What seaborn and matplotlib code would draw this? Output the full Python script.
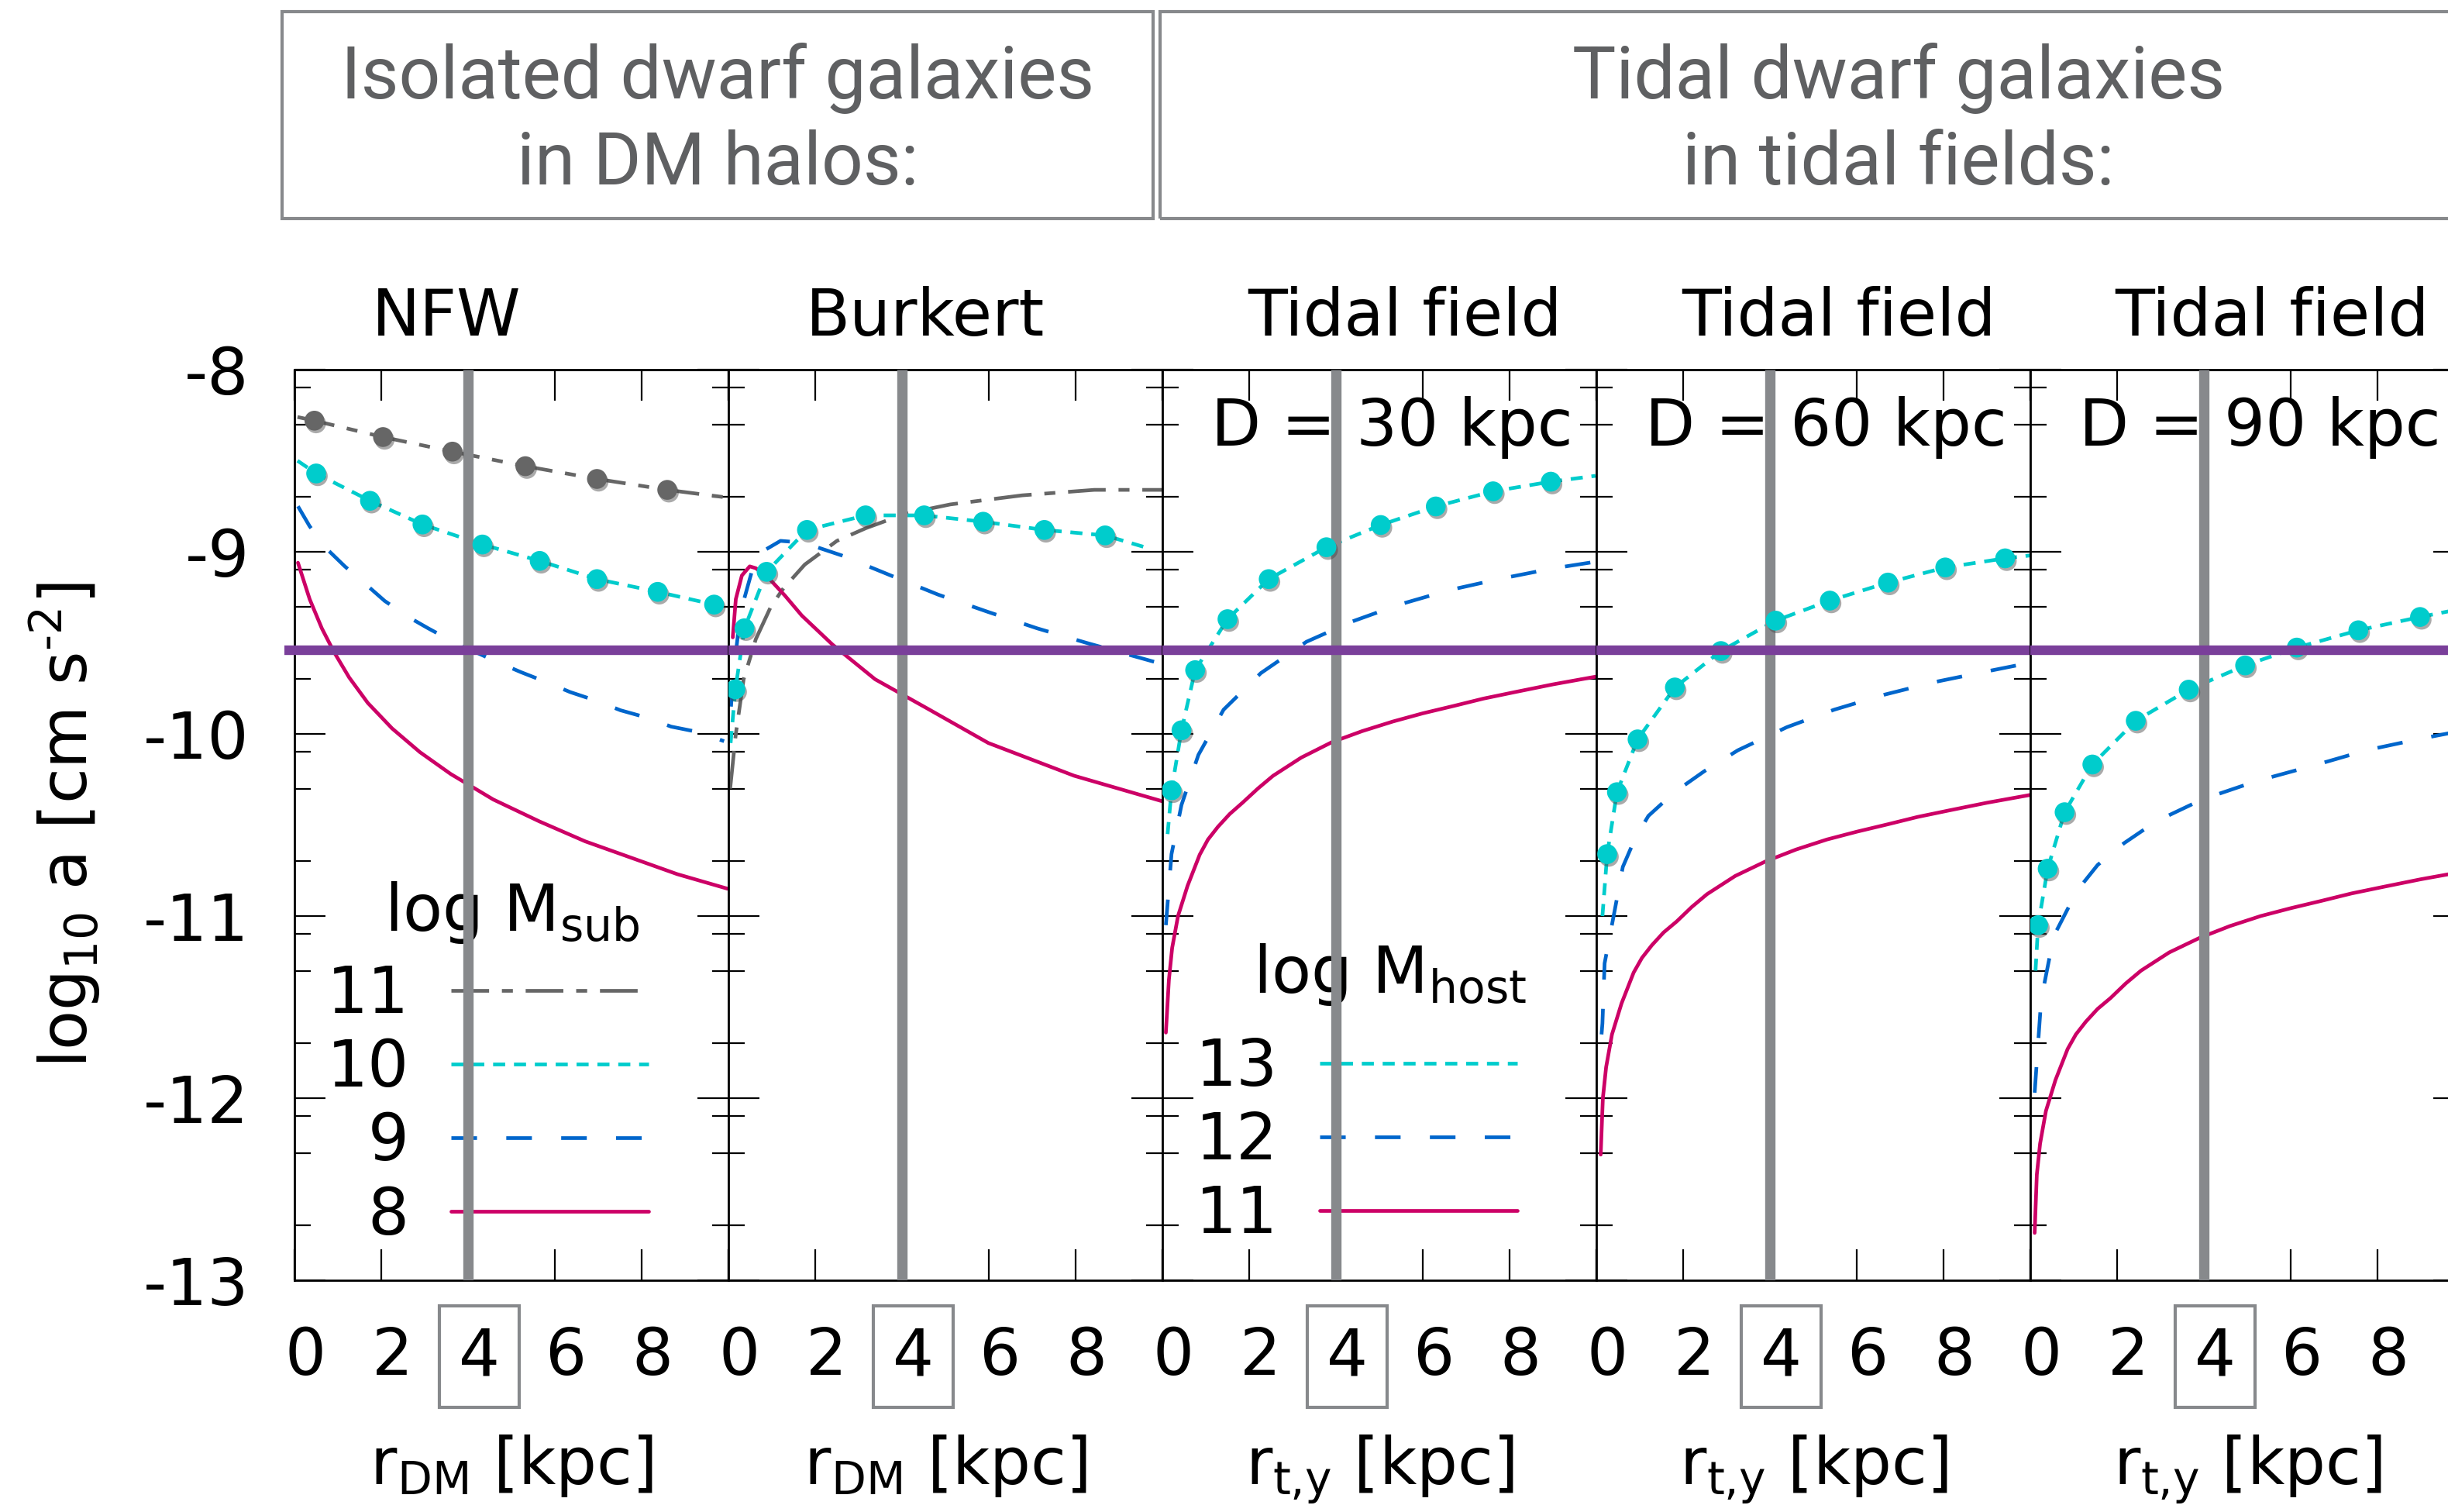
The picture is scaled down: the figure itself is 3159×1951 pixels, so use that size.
import matplotlib
matplotlib.use("Agg")
import matplotlib.pyplot as plt
import matplotlib.patheffects as pe
from matplotlib.lines import Line2D
from matplotlib.patches import Rectangle
import numpy as np
import seaborn as sns

# ---------------- data ----------------
panel_titles = ["NFW", "Burkert", "Tidal field", "Tidal field", "Tidal field"]
title_x = [3.5, 4.54, 5.59, 5.59, 5.57]
distance_labels = [None, None, "D = 30 kpc", "D = 60 kpc", "D = 90 kpc"]
x_label_dm = r"r$_{\mathrm{DM}}$ [kpc]"
x_label_t = r"r$_{\mathrm{t{,}y}}$ [kpc]"
y_label = r"log$_{10}$ a [cm s$^{\text{-}2}$]"
x_tick_values = [0, 2, 4, 6, 8]
y_tick_values = [-13, -12, -11, -10, -9, -8]
ref_radius = 4
ref_accel = -9.54

# NFW panel (log M_sub = 11, 10, 9, 8)
nfw11_x = [0.07, 0.46, 2.04, 3.64, 5.32, 6.97, 8.59, 9.9]
nfw11_y = [-8.26, -8.28, -8.37, -8.45, -8.53, -8.60, -8.66, -8.70]
nfw11_mx = [0.46, 2.04, 3.64, 5.32, 6.97, 8.59]
nfw11_my = [-8.28, -8.37, -8.45, -8.53, -8.60, -8.66]
nfw10_x = [0.07, 0.50, 1.74, 2.95, 4.33, 5.65, 6.97, 8.37, 9.67, 9.9]
nfw10_y = [-8.50, -8.57, -8.72, -8.85, -8.96, -9.05, -9.15, -9.22, -9.29, -9.30]
nfw10_mx = [0.50, 1.74, 2.95, 4.33, 5.65, 6.97, 8.37, 9.67]
nfw10_my = [-8.57, -8.72, -8.85, -8.96, -9.05, -9.15, -9.22, -9.29]
nfw9_x = [0.08, 0.35, 0.77, 1.16, 1.65, 2.08, 2.64, 3.08, 3.70, 4.72, 5.21, 5.85, 6.35, 6.98, 7.51, 8.11, 8.68, 9.31, 9.9]
nfw9_y = [-8.75, -8.86, -8.99, -9.08, -9.18, -9.27, -9.36, -9.42, -9.50, -9.61, -9.66, -9.72, -9.77, -9.82, -9.87, -9.91, -9.96, -9.99, -10.04]
nfw8_x = [0.08, 0.35, 0.63, 0.91, 1.26, 1.69, 2.25, 2.89, 3.60, 4.58, 5.64, 6.70, 7.76, 8.82, 9.98]
nfw8_y = [-9.06, -9.26, -9.42, -9.55, -9.69, -9.83, -9.97, -10.10, -10.22, -10.36, -10.48, -10.59, -10.68, -10.77, -10.85]

# Burkert panel
bur11_x = [0.04, 0.17, 0.35, 0.63, 0.98, 1.27, 1.76, 2.50, 3.17, 4.09, 5.11, 6.77, 8.43, 10.0]
bur11_y = [-10.30, -10.00, -9.70, -9.48, -9.30, -9.20, -9.07, -8.94, -8.87, -8.79, -8.74, -8.69, -8.66, -8.66]
bur10_x = [0.05, 0.16, 0.37, 0.88, 1.81, 3.16, 4.51, 5.87, 7.28, 8.68, 9.67]
bur10_y = [-10.05, -9.755, -9.42, -9.11, -8.88, -8.80, -8.80, -8.835, -8.88, -8.91, -8.98]
bur10_mx = [0.16, 0.37, 0.88, 1.81, 3.16, 4.51, 5.87, 7.28, 8.68]
bur10_my = [-9.755, -9.42, -9.11, -8.88, -8.80, -8.80, -8.835, -8.88, -8.91]
bur9_x = [0.06, 0.10, 0.28, 0.56, 0.77, 1.20, 1.73, 2.61, 3.74, 4.83, 5.98, 7.11, 8.25, 9.9]
bur9_y = [-9.85, -9.70, -9.33, -9.09, -9.00, -8.94, -8.95, -9.02, -9.13, -9.235, -9.33, -9.42, -9.50, -9.61]
bur8_x = [0.10, 0.17, 0.31, 0.49, 0.63, 0.91, 1.30, 1.69, 2.40, 3.38, 4.58, 5.99, 7.97, 10.0]
bur8_y = [-9.47, -9.26, -9.13, -9.08, -9.09, -9.14, -9.24, -9.35, -9.51, -9.70, -9.86, -10.05, -10.23, -10.37]

# Tidal field, D = 30 kpc (log M_host = 13, 12, 11)
d30_13_x = [0.12, 0.21, 0.44, 0.755, 1.50, 2.45, 3.78, 5.03, 6.30, 7.62, 8.95, 9.98]
d30_13_y = [-10.55, -10.31, -9.98, -9.65, -9.37, -9.15, -8.975, -8.853, -8.751, -8.668, -8.615, -8.583]
d30_13_mx = [0.21, 0.44, 0.755, 1.50, 2.45, 3.78, 5.03, 6.30, 7.62, 8.95]
d30_13_my = [-10.31, -9.98, -9.65, -9.37, -9.15, -8.975, -8.853, -8.751, -8.668, -8.615]
d30_12_x = [0.08, 0.21, 0.44, 0.83, 1.41, 2.27, 3.32, 4.37, 5.47, 6.62, 7.79, 8.98, 10.0]
d30_12_y = [-11.05, -10.66, -10.39, -10.115, -9.867, -9.666, -9.494, -9.383, -9.289, -9.21, -9.148, -9.092, -9.054]
d30_11_x = [0.08, 0.15, 0.225, 0.36, 0.58, 0.86, 1.05, 1.28, 1.55, 1.85, 2.2, 2.55, 3.2, 3.90, 4.6, 5.31, 6.0, 6.72, 7.4, 8.13, 9.0, 10.0]
d30_11_y = [-11.64, -11.35, -11.175, -11.0, -10.834, -10.663, -10.58, -10.51, -10.44, -10.377, -10.30, -10.23, -10.13, -10.046, -9.985, -9.932, -9.887, -9.846, -9.806, -9.77, -9.728, -9.685]

# Tidal field, D = 60 kpc
d60_13_x = [0.14, 0.25, 0.475, 0.95, 1.81, 2.87, 4.13, 5.38, 6.72, 8.04, 9.42, 10.0]
d60_13_y = [-11.0, -10.66, -10.32, -10.03, -9.745, -9.545, -9.378, -9.268, -9.169, -9.086, -9.036, -9.02]
d60_13_mx = [0.25, 0.475, 0.95, 1.81, 2.87, 4.13, 5.38, 6.72, 8.04, 9.42]
d60_13_my = [-10.66, -10.32, -10.03, -9.745, -9.545, -9.378, -9.268, -9.169, -9.086, -9.036]
d60_12_x = [0.12, 0.14, 0.19, 0.43, 0.61, 0.9, 1.2, 1.8, 2.48, 3.26, 4.39, 5.48, 6.63, 7.80, 8.99, 10.0]
d60_12_y = [-11.65, -11.59, -11.26, -10.96, -10.73, -10.57, -10.45, -10.32, -10.206, -10.09, -9.963, -9.867, -9.785, -9.715, -9.657, -9.609]
d60_11_x = [0.10, 0.15, 0.225, 0.36, 0.58, 0.86, 1.05, 1.28, 1.55, 1.85, 2.2, 2.55, 3.2, 3.90, 4.6, 5.31, 6.0, 6.72, 7.4, 8.13, 9.0, 10.0]
d60_11_y = [-12.31, -12.0, -11.83, -11.65, -11.48, -11.31, -11.23, -11.16, -11.09, -11.03, -10.95, -10.88, -10.78, -10.70, -10.635, -10.58, -10.537, -10.496, -10.456, -10.42, -10.378, -10.335]

# Tidal field, D = 90 kpc
d90_13_x = [0.12, 0.18, 0.40, 0.79, 1.43, 2.43, 3.65, 4.95, 6.14, 7.56, 8.98, 10.0]
d90_13_y = [-11.3, -11.05, -10.74, -10.43, -10.168, -9.928, -9.757, -9.624, -9.526, -9.431, -9.358, -9.31]
d90_13_mx = [0.18, 0.40, 0.79, 1.43, 2.43, 3.65, 4.95, 6.14, 7.56, 8.98]
d90_13_my = [-11.05, -10.74, -10.43, -10.168, -9.928, -9.757, -9.624, -9.526, -9.431, -9.358]
d90_12_x = [0.10, 0.25, 0.54, 1.08, 1.55, 2.16, 2.9, 3.96, 5.2, 6.58, 7.74, 8.92, 10.0]
d90_12_y = [-11.97, -11.46, -11.11, -10.86, -10.72, -10.60, -10.48, -10.36, -10.26, -10.17, -10.09, -10.03, -9.98]
d90_11_x = [0.10, 0.15, 0.225, 0.36, 0.58, 0.86, 1.05, 1.28, 1.55, 1.85, 2.2, 2.55, 3.2, 3.90, 4.6, 5.31, 6.0, 6.72, 7.4, 8.13, 9.0, 10.0]
d90_11_y = [-12.74, -12.42, -12.25, -12.07, -11.90, -11.73, -11.65, -11.58, -11.51, -11.45, -11.37, -11.30, -11.20, -11.12, -11.055, -11.0, -10.957, -10.916, -10.876, -10.84, -10.798, -10.755]

legend_sub_labels = ["11", "10", "\u20079", "\u20078"]
legend_host_labels = ["13", "12", "11"]

# ---------------- styling ----------------
sns.set_theme(style="ticks")
plt.rcParams["font.family"] = ["DejaVu Sans"]
plt.rcParams["axes.unicode_minus"] = False
plt.rcParams["mathtext.default"] = "regular"
plt.rcParams["text.color"] = "black"
plt.rcParams["axes.labelcolor"] = "black"
plt.rcParams["xtick.color"] = "black"
plt.rcParams["ytick.color"] = "black"

C_GRAY = "#666666"
C_CYAN = "#00CCCC"
C_BLUE = "#0066CC"
C_MAG = "#CC0066"
C_PURPLE = "#7A3F9A"
C_VLINE = "#87898C"
LW = 3.4
FS = 60
D_GRAY = (10.3, 3.5, 3, 3.5)
D_CYAN = (3.3, 2.4)
D_BLUE = (7, 8)
MS = 340

W, H = 3159, 1951
fig = plt.figure(figsize=(W / 100, H / 100), dpi=100)

ax_left_px = [380, 940, 1500, 2060, 2620]
ax_w_px = 560
ax_top_px, ax_bot_px = 477, 1652
axes = []
for lp in ax_left_px:
    ax = fig.add_axes([lp / W, 1 - ax_bot_px / H, ax_w_px / W, (ax_bot_px - ax_top_px) / H])
    axes.append(ax)

shadow = [pe.SimplePatchShadow(offset=(1.5, -2.5), shadow_rgbFace="#444444", alpha=0.45), pe.Normal()]


def curve(ax, x, y, color, dashes):
    sns.lineplot(x=x, y=y, ax=ax, color=color, linewidth=LW, sort=False, estimator=None, zorder=2)
    ln = ax.lines[-1]
    if dashes is not None:
        ln.set_dashes(dashes)
    ln.set_dash_capstyle("butt")
    ln.set_solid_joinstyle("round")


def dots(ax, x, y, color):
    sns.scatterplot(x=x, y=y, ax=ax, color=color, s=MS, linewidth=0, zorder=4)
    ax.collections[-1].set_path_effects(shadow)


# NFW
curve(axes[0], nfw11_x, nfw11_y, C_GRAY, D_GRAY)
curve(axes[0], nfw10_x, nfw10_y, C_CYAN, D_CYAN)
curve(axes[0], nfw9_x, nfw9_y, C_BLUE, D_BLUE)
curve(axes[0], nfw8_x, nfw8_y, C_MAG, None)
dots(axes[0], nfw11_mx, nfw11_my, C_GRAY)
dots(axes[0], nfw10_mx, nfw10_my, C_CYAN)
# Burkert
curve(axes[1], bur11_x, bur11_y, C_GRAY, D_GRAY)
curve(axes[1], bur10_x, bur10_y, C_CYAN, D_CYAN)
curve(axes[1], bur9_x, bur9_y, C_BLUE, D_BLUE)
curve(axes[1], bur8_x, bur8_y, C_MAG, None)
dots(axes[1], bur10_mx, bur10_my, C_CYAN)
# Tidal
for ax, (x13, y13, mx, my, x12, y12, x11, y11) in zip(
    axes[2:],
    [
        (d30_13_x, d30_13_y, d30_13_mx, d30_13_my, d30_12_x, d30_12_y, d30_11_x, d30_11_y),
        (d60_13_x, d60_13_y, d60_13_mx, d60_13_my, d60_12_x, d60_12_y, d60_11_x, d60_11_y),
        (d90_13_x, d90_13_y, d90_13_mx, d90_13_my, d90_12_x, d90_12_y, d90_11_x, d90_11_y),
    ],
):
    curve(ax, x13, y13, C_CYAN, D_CYAN)
    curve(ax, x12, y12, C_BLUE, D_BLUE)
    curve(ax, x11, y11, C_MAG, None)
    dots(ax, mx, my, C_CYAN)

minor_y = []
for d in range(-13, -8):
    for m in (2, 5, 8):
        minor_y.append(d + np.log10(m))

for i, ax in enumerate(axes):
    ax.set_xlim(0, 10)
    ax.set_ylim(-13, -8)
    ax.axvline(ref_radius, color=C_VLINE, lw=9.6, zorder=3, solid_capstyle="butt")
    ax.axhline(ref_accel, xmin=(-0.023 if i == 0 else 0), xmax=1, color=C_PURPLE, lw=8.9,
               zorder=6, clip_on=False, solid_capstyle="butt")
    ax.set_xticks([0, 2, 4, 6, 8, 10])
    ax.set_xticklabels([])
    ax.set_xticks([v + 0.25 for v in x_tick_values], minor=True)
    ax.set_xticklabels([str(v) for v in x_tick_values], minor=True)
    ax.set_yticks(y_tick_values)
    ax.set_yticks(minor_y, minor=True)
    ax.tick_params(which="both", direction="in", top=True, right=True, bottom=True, left=True,
                   color="black", width=1.6, labelsize=FS, pad=42, labelcolor="black")
    ax.tick_params(which="major", length=29)
    ax.tick_params(axis="y", which="minor", length=15)
    ax.tick_params(axis="x", which="minor", length=0)
    if i == 0:
        ax.set_yticklabels([str(v) for v in y_tick_values])
    else:
        ax.set_yticklabels([])
    for s in ax.spines.values():
        s.set_linewidth(2.0)
        s.set_color("black")
        s.set_visible(True)
    box_lab = ax.get_xticklabels(minor=True)[2]
    box_lab.set_bbox(dict(boxstyle="square,pad=0.3", fc="none", ec=C_VLINE, lw=3))
    ax.set_xlabel(x_label_dm if i < 2 else x_label_t, fontsize=FS, color="black")
    ax.xaxis.set_label_coords(0.5, -0.168)
    ax.set_ylabel("")
    ax.text(title_x[i], -7.813, panel_titles[i], ha="center", va="baseline", fontsize=FS,
            color="black", clip_on=False)
    if distance_labels[i]:
        ax.text(1.12, -8.417, distance_labels[i], ha="left", va="baseline", fontsize=FS,
                color="black", zorder=2)

axes[0].set_ylabel(y_label, fontsize=FS, color="black")
axes[0].yaxis.set_label_coords(-0.443, 0.5)

# legends
h_sub = [Line2D([], [], color=C_GRAY, lw=LW, dashes=D_GRAY),
         Line2D([], [], color=C_CYAN, lw=LW, dashes=D_CYAN),
         Line2D([], [], color=C_BLUE, lw=LW, dashes=D_BLUE),
         Line2D([], [], color=C_MAG, lw=LW)]
leg = axes[0].legend(handles=h_sub, labels=legend_sub_labels, loc="upper left",
                     bbox_to_anchor=(0.75, -11.26), bbox_transform=axes[0].transData,
                     frameon=False, fontsize=FS, handlelength=3.06, handletextpad=0.64,
                     labelspacing=0.17, borderpad=0, borderaxespad=0, markerfirst=False,
                     labelcolor="black")
leg.set_zorder(2.5)
axes[0].text(2.07, -11.08, r"log M$_{\mathrm{sub}}$", ha="left", va="baseline", fontsize=FS,
             color="black", zorder=2.5)

leg2 = axes[2].legend(handles=h_sub[1:], labels=legend_host_labels, loc="upper left",
                      bbox_to_anchor=(0.77, -11.66), bbox_transform=axes[2].transData,
                      frameon=False, fontsize=FS, handlelength=3.06, handletextpad=0.64,
                      labelspacing=0.17, borderpad=0, borderaxespad=0, markerfirst=False,
                      labelcolor="black")
leg2.set_zorder(2.5)
axes[2].text(2.09, -11.42, r"log M$_{\mathrm{host}}$", ha="left", va="baseline", fontsize=FS,
             color="black", zorder=2.5)

# header boxes
for x0, x1 in [(364, 1488), (1497, 3403)]:
    fig.add_artist(Rectangle((x0 / W, 1 - 282 / H), (x1 - x0) / W, (282 - 15) / H,
                             transform=fig.transFigure, fill=False, ec=C_VLINE, lw=3))
hdr_kw = dict(ha="center", va="baseline", fontsize=68, color="#5f6062", family="Roboto", fontweight="normal")
fig.text(926 / W, 1 - 127 / H, "Isolated dwarf galaxies", **hdr_kw)
fig.text(926 / W, 1 - 238 / H, "in DM halos:", **hdr_kw)
fig.text(2450 / W, 1 - 127 / H, "Tidal dwarf galaxies", **hdr_kw)
fig.text(2450 / W, 1 - 238 / H, "in tidal fields:", **hdr_kw)

fig.savefig("out.png", dpi=100)
